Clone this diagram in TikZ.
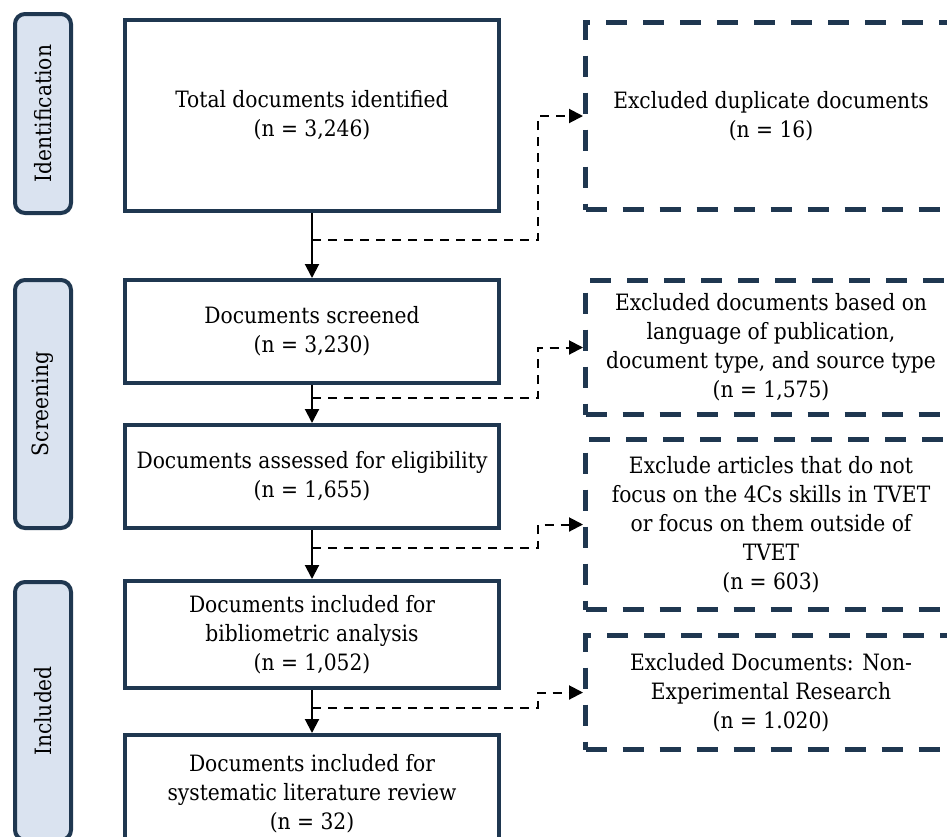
\documentclass[tikz,border=0pt]{standalone}
\usepackage{fontspec}
\setmainfont{DejaVu Serif Condensed}
\usetikzlibrary{arrows.meta}
\definecolor{navy}{HTML}{1F3750}
\definecolor{lightblue}{HTML}{DAE3F0}
\begin{document}
\begin{tikzpicture}[x=1pt,y=-1pt,
  font=\fontsize{22.5}{29}\selectfont,
  mainbox/.style={draw=navy, line width=4pt, fill=white, align=center, inner sep=0pt, minimum width=374pt},
  exbox/.style={draw=navy, line width=5pt, dash pattern=on 21pt off 16pt, align=center, inner sep=0pt, minimum width=371pt},
  phase/.style={draw=navy, fill=lightblue, line width=4pt, rounded corners=10pt, rotate=90, minimum height=56pt, inner sep=0pt},
  flow/.style={draw=black, line width=2pt, -{Triangle[length=14pt,width=14pt]}},
  dflow/.style={draw=black, line width=2pt, dash pattern=on 9pt off 7pt, -{Triangle[length=14pt,width=14pt]}}
]
\useasboundingbox (0,0) rectangle (947,836);
\clip (0,0) rectangle (947,836);

% phase labels
\node[phase, minimum width=199pt] (p1) at (43,113.5) {Identification};
\node[phase, minimum width=248pt] (p2) at (43,404) {Screening};
\node[phase, minimum width=258pt] (p3) at (43,711) {Included};

% main boxes
\node[mainbox, minimum height=191pt] (b1) at (312,115.5) {Total documents identified\\(n = 3,246)};
\node[mainbox, minimum height=103pt] (b2) at (312,331.5) {Documents screened\\(n = 3,230)};
\node[mainbox, minimum height=103pt] (b3) at (312,476.5) {Documents assessed for eligibility\\(n = 1,655)};
\node[mainbox, minimum height=107pt] (b4) at (312,634.5) {Documents included for\\bibliometric analysis\\(n = 1,052)};
\node[mainbox, minimum height=118pt] (b5) at (312,794) {Documents included for\\systematic literature review\\(n = 32)};

% excluded boxes
\node[exbox, minimum height=187pt] (e1) at (771,116) {Excluded duplicate documents\\(n = 16)};
\node[exbox, minimum height=134pt] (e2) at (771,347.5) {Excluded documents based on\\language of publication,\\document type, and source type\\(n = 1,575)};
\node[exbox, minimum height=170pt] (e3) at (771,524.5) {Exclude articles that do not\\focus on the 4Cs skills in TVET\\or focus on them outside of\\TVET\\(n = 603)};
\node[exbox, minimum height=114pt] (e4) at (771,692.5) {Excluded Documents: Non-\\Experimental Research\\(n = 1.020)};

% junction coordinates
\coordinate (j1) at (312,240);
\coordinate (k1) at (538,240);
\coordinate (j2) at (312,398);
\coordinate (k2) at (538,398);
\coordinate (j3) at (312,548);
\coordinate (k3) at (538,548);
\coordinate (j4) at (312,708);
\coordinate (k4) at (538,708);

% main flow
\draw[flow] (b1.south) -- (b2.north);
\draw[flow] (b2.south) -- (b3.north);
\draw[flow] (b3.south) -- (b4.north);
\draw[flow] (b4.south) -- (b5.north);

% exclusion branches
\draw[dflow] (j1) -- (k1) |- (e1.west);
\draw[dflow] (j2) -- (k2) |- (e2.west);
\draw[dflow] (j3) -- (k3) |- (e3.west);
\draw[dflow] (j4) -- (k4) |- (e4.west);
\end{tikzpicture}
\end{document}
